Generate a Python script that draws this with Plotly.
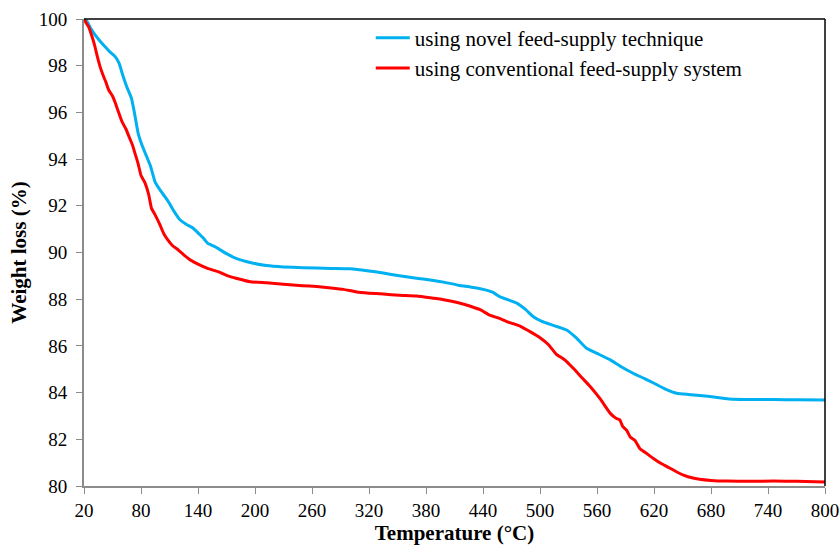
import plotly.graph_objects as go

# Thermogravimetric curves: temperature (°C) vs remaining weight (%)
temp_novel = [20, 23, 27, 32, 37, 42, 47, 53, 57, 60, 65, 70, 73, 77, 81, 85, 90, 95, 100,
              105, 110, 115, 121, 128, 135, 141, 146, 150, 154, 160, 170, 180, 195, 212,
              230, 250, 280, 300, 318, 335, 352, 370, 388, 400, 414, 430, 440, 450, 458,
              468, 476, 485, 493, 502, 511, 520, 528, 538, 549, 560, 574, 585, 598, 610,
              620, 632, 644, 656, 668, 685, 704, 725, 746, 770, 800]
weight_novel = [100, 99.9, 99.6, 99.3, 99.05, 98.82, 98.6, 98.38, 98.1, 97.7, 97.1, 96.6,
                96.0, 95.1, 94.6, 94.2, 93.7, 93.0, 92.68, 92.4, 92.1, 91.75, 91.4, 91.2,
                91.04, 90.8, 90.6, 90.4, 90.32, 90.2, 89.95, 89.75, 89.57, 89.44, 89.38,
                89.35, 89.32, 89.3, 89.22, 89.12, 89.0, 88.9, 88.8, 88.72, 88.6, 88.5,
                88.42, 88.3, 88.1, 87.95, 87.82, 87.55, 87.25, 87.05, 86.92, 86.8, 86.68,
                86.35, 85.9, 85.68, 85.4, 85.12, 84.83, 84.6, 84.4, 84.15, 83.97, 83.92,
                83.88, 83.8, 83.71, 83.7, 83.7, 83.69, 83.68]

temp_conv = [20, 22, 25, 28, 31, 34, 37, 40, 43, 46, 50, 53, 56, 60, 64, 68, 71, 74, 77, 80,
             84, 88, 91, 95, 100, 104, 108, 113, 118, 125, 132, 140, 150, 161, 170, 180,
             195, 212, 230, 250, 265, 280, 293, 307, 320, 335, 352, 370, 388, 400, 414,
             426, 437, 447, 456, 465, 472, 479, 490, 500, 509, 517, 526, 535, 545, 553,
             563, 574, 580, 584, 587, 591, 595, 600, 605, 612, 619, 628, 637, 644, 651,
             660, 668, 680, 697, 720, 746, 770, 800]
weight_conv = [100, 99.85, 99.65, 99.3, 98.9, 98.4, 97.95, 97.6, 97.3, 96.96, 96.7, 96.4,
               96.05, 95.6, 95.3, 94.9, 94.6, 94.2, 93.8, 93.3, 93.0, 92.5, 91.9, 91.6,
               91.18, 90.8, 90.55, 90.3, 90.15, 89.9, 89.68, 89.5, 89.32, 89.18, 89.02,
               88.9, 88.75, 88.7, 88.64, 88.58, 88.54, 88.48, 88.42, 88.31, 88.26, 88.22,
               88.17, 88.14, 88.04, 87.97, 87.85, 87.71, 87.55, 87.32, 87.2, 87.04, 86.95,
               86.85, 86.6, 86.35, 86.05, 85.65, 85.4, 85.04, 84.6, 84.25, 83.75, 83.11,
               82.9, 82.83, 82.55, 82.4, 82.1, 81.95, 81.61, 81.4, 81.19, 80.95, 80.76,
               80.6, 80.47, 80.35, 80.29, 80.24, 80.21, 80.2, 80.21, 80.2, 80.17]

x_ticks = [20, 80, 140, 200, 260, 320, 380, 440, 500, 560, 620, 680, 740, 800]
y_ticks = [80, 82, 84, 86, 88, 90, 92, 94, 96, 98, 100]

serif = "Liberation Serif"
axis_grey = "#8c8c8c"

fig = go.Figure()
fig.add_trace(go.Scatter(x=temp_novel, y=weight_novel, mode="lines",
                         name="using novel feed-supply technique",
                         line=dict(color="#00B0F0", width=3, shape="spline", smoothing=0.4)))
fig.add_trace(go.Scatter(x=temp_conv, y=weight_conv, mode="lines",
                         name="using conventional feed-supply system",
                         line=dict(color="#FF0000", width=3, shape="spline", smoothing=0.4)))

fig.update_layout(
    width=840, height=545,
    margin=dict(l=84, r=15, t=19, b=59),
    paper_bgcolor="white", plot_bgcolor="white",
    font=dict(family=serif, size=19, color="black"),
    showlegend=True,
    legend=dict(x=0.387, y=1.003, xanchor="left", yanchor="top",
                bgcolor="rgba(0,0,0,0)", font=dict(family=serif, size=21),
                tracegroupgap=0, itemwidth=34),
    xaxis=dict(range=[20, 800], tickvals=x_ticks, showgrid=False, zeroline=False,
               automargin=False,
               showline=True, linecolor=axis_grey, linewidth=2,
               ticks="outside", ticklen=6, tickcolor=axis_grey, tickwidth=1,
               ticklabelstandoff=0,
               tickfont=dict(family=serif, size=19),
               title=dict(text="<b>Temperature (°C)</b>", font=dict(family=serif, size=21),
                          standoff=7)),
    yaxis=dict(range=[80, 100], tickvals=y_ticks, showgrid=False, zeroline=False,
               automargin=False,
               showline=True, linecolor=axis_grey, linewidth=2,
               ticks="outside", ticklen=6, tickcolor=axis_grey, tickwidth=1,
               ticklabelstandoff=5,
               tickfont=dict(family=serif, size=19),
               title=dict(text="<b>Weight loss (%)</b>", font=dict(family=serif, size=21),
                          standoff=6)),
)

# Black border along the top and right of the plot area
fig.add_shape(type="line", xref="paper", yref="paper", x0=0, x1=1, y0=1, y1=1,
              line=dict(color="black", width=1.5))
fig.add_shape(type="line", xref="paper", yref="paper", x0=1, x1=1, y0=0, y1=1,
              line=dict(color="black", width=1.5))

fig.write_html("out.html")
